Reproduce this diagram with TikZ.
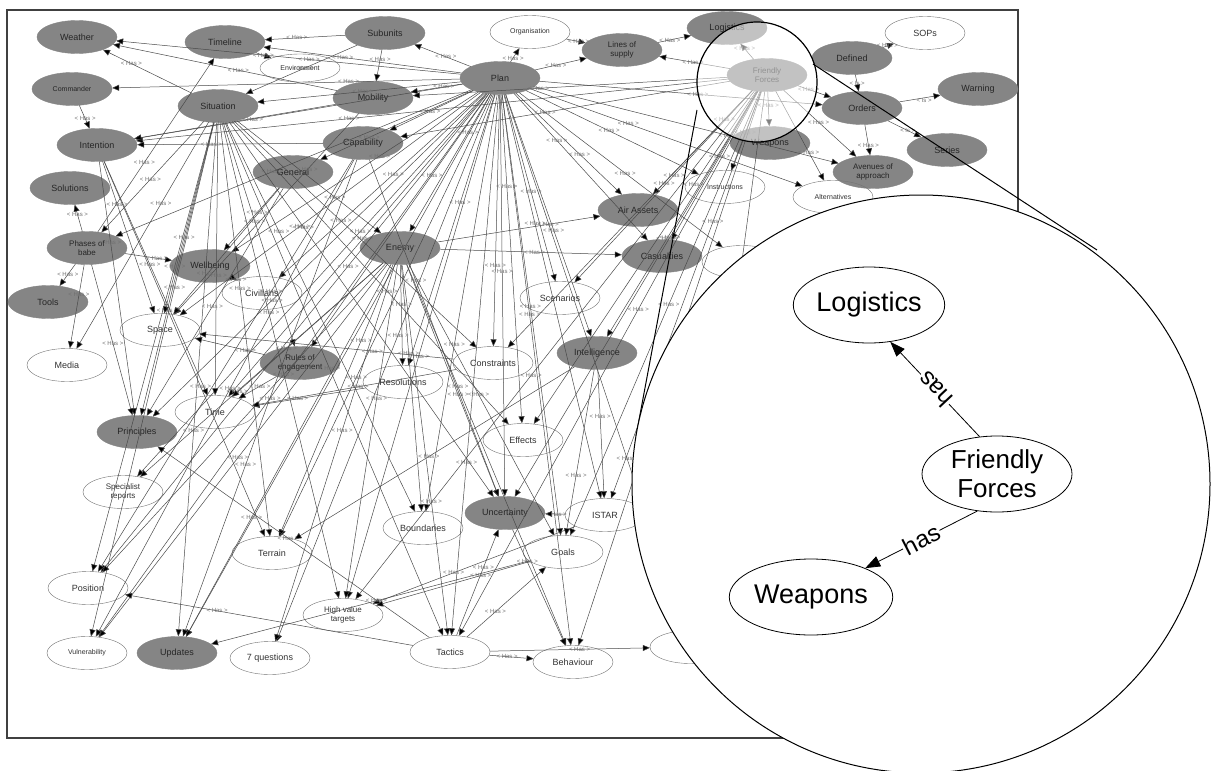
\documentclass[tikz,border=0pt]{standalone}
\usepackage{fontspec}
\setmainfont{Liberation Sans}
\usetikzlibrary{shapes.geometric,arrows.meta}
\definecolor{nodegray}{HTML}{858585}
\definecolor{edgegray}{HTML}{4A4A4A}
\definecolor{labgray}{HTML}{707070}
\begin{document}
\begin{tikzpicture}[x=1pt,y=-1pt,
  dk/.style={ellipse,fill=nodegray,draw=nodegray,text=black!85,
    minimum width=80pt,minimum height=33pt,inner sep=1pt,align=center,
    font=\fontsize{9}{9}\selectfont},
  wt/.style={ellipse,draw=black!55,text=black!80,
    minimum width=80pt,minimum height=33pt,inner sep=1pt,align=center,
    font=\fontsize{9}{9}\selectfont},
  two/.style={font=\fontsize{8}{8.5}\selectfont},
  sm/.style={font=\fontsize{7}{7}\selectfont},
  edge/.style={draw=edgegray,line width=0.5pt,
    -{Triangle[length=7pt,width=6pt,fill=black]}},
  lab/.style={font=\fontsize{6}{6}\selectfont,text=labgray,inner sep=0.5pt},
  big/.style={ellipse,draw=black,line width=0.8pt,fill=white,
    minimum width=150pt,minimum height=76pt,inner sep=1pt,align=center,
    font=\fontsize{27}{29}\selectfont},
  bigedge/.style={draw=black,line width=0.8pt,
    -{Triangle[length=15pt,width=11pt]}},
  haslab/.style={font=\fontsize{24}{24}\selectfont,fill=white,inner sep=1pt}]
\useasboundingbox (0,0) rectangle (1211,771);
\fill[white] (0,0) rectangle (1211,771);

% frame of the concept map
\draw[black!75,line width=2pt] (7,10) rectangle (1018,738);

% ---- concept nodes ----
\node[dk] (weather) at (77,37) {Weather};
\node[dk] (timeline) at (225,42) {Timeline};
\node[wt,sm,minimum height=28pt] (environment) at (300,68) {Environment};
\node[dk] (subunits) at (385,33) {Subunits};
\node[wt,sm] (organisation) at (530,32) {Organisation};
\node[dk,two] (linesupply) at (622,50) {Lines of\\supply};
\node[dk] (logistics) at (727,28) {Logistics};
\node[dk] (plan) at (500,78) {Plan};
\node[dk,sm] (commander) at (72,89) {Commander};
\node[dk] (situation) at (218,106) {Situation};
\node[dk] (mobility) at (373,98) {Mobility};
\node[dk] (intention) at (97,145) {Intention};
\node[dk] (capability) at (363,143) {Capability};
\node[dk] (general) at (293,172) {General};
\node[dk] (solutions) at (70,188) {Solutions};
\node[dk,two] (phases) at (87,248) {Phases of\\babe};
\node[dk] (wellbeing) at (210,266) {Wellbeing};
\node[dk] (enemy) at (400,248) {Enemy};
\node[dk] (tools) at (48,302) {Tools};
\node[wt] (civilians) at (262,293) {Civilians};
\node[wt] (space) at (160,330) {Space};
\node[wt] (media) at (67,365) {Media};
\node[dk,two] (rules) at (300,363) {Rules of\\engagement};
\node[wt] (time) at (215,412) {Time};
\node[dk] (principles) at (137,432) {Principles};
\node[wt,two] (specialist) at (123,492) {Specialist\\reports};
\node[wt] (scenarios) at (560,298) {Scenarios};
\node[wt] (constraints) at (493,363) {Constraints};
\node[wt] (resolutions) at (403,382) {Resolutions};
\node[dk] (intelligence) at (597,353) {Intelligence};
\node[wt] (effects) at (523,440) {Effects};
\node[dk] (uncertainty) at (505,513) {Uncertainty};
\node[wt] (boundaries) at (423,528) {Boundaries};
\node[wt] (istar) at (605,515) {ISTAR};
\node[wt] (goals) at (563,552) {Goals};
\node[wt] (terrain) at (272,553) {Terrain};
\node[wt] (position) at (88,588) {Position};
\node[wt,two] (hvt) at (343,615) {High value\\targets};
\node[wt] (tactics) at (450,652) {Tactics};
\node[wt] (behaviour) at (573,662) {Behaviour};
\node[wt,sm] (vulnerability) at (87,653) {Vulnerability};
\node[dk] (updates) at (177,653) {Updates};
\node[wt] (sevenq) at (270,658) {7 questions};
\node[dk] (airassets) at (638,210) {Air Assets};
\node[dk] (casualties) at (662,256) {Casualties};
\node[dk,two] (friendly) at (767,75) {Friendly\\Forces};
\node[dk] (defined) at (852,58) {Defined};
\node[wt] (sops) at (925,33) {SOPs};
\node[dk] (warning) at (978,89) {Warning};
\node[dk] (orders) at (862,108) {Orders};
\node[dk] (series) at (947,150) {Series};
\node[dk] (weapons) at (770,143) {Weapons};
\node[dk,two] (avenues) at (873,172) {Avenues of\\approach};
\node[wt,sm] (instructions) at (725,187) {Instructions};
\node[wt,sm] (alternatives) at (833,197) {Alternatives};
\node[wt] (hidA) at (742,262) {};
\node[wt] (hidB) at (690,647) {};

% ---- "has" relations ----
\foreach \a/\b [count=\i] in {
  plan/weather, plan/timeline, plan/commander, plan/situation, plan/intention,
  plan/mobility, plan/capability, plan/general, plan/wellbeing, plan/phases,
  plan/enemy, plan/civilians, plan/space, plan/rules, plan/time,
  plan/principles, plan/specialist, plan/scenarios, plan/constraints,
  plan/resolutions, plan/intelligence, plan/effects, plan/uncertainty,
  plan/boundaries, plan/istar, plan/goals, plan/terrain, plan/position,
  plan/hvt, plan/tactics, plan/behaviour, plan/vulnerability, plan/updates,
  plan/sevenq, plan/airassets, plan/casualties, plan/instructions,
  plan/avenues, plan/alternatives, plan/hidA, plan/hidB, plan/linesupply,
  plan/orders, plan/organisation, plan/subunits,
  subunits/timeline, subunits/mobility, subunits/situation, organisation/linesupply,
  linesupply/logistics,
  friendly/linesupply, friendly/logistics, friendly/weapons, friendly/capability,
  friendly/airassets, friendly/casualties, friendly/intelligence, friendly/istar,
  friendly/goals, friendly/behaviour, friendly/uncertainty, friendly/instructions,
  friendly/alternatives, friendly/tactics, friendly/hvt, friendly/effects,
  friendly/scenarios, friendly/mobility, friendly/orders, friendly/avenues,
  friendly/intention, friendly/constraints, friendly/hidB,
  situation/enemy, situation/terrain, situation/time, situation/uncertainty,
  situation/rules, situation/updates, situation/vulnerability, situation/tactics,
  situation/principles, situation/media, situation/phases, situation/weather,
  situation/hvt, situation/effects, situation/boundaries, situation/constraints,
  situation/space, situation/position, timeline/environment,
  enemy/tactics, enemy/position, enemy/vulnerability, enemy/updates, enemy/hvt,
  enemy/uncertainty, enemy/terrain, enemy/sevenq, enemy/specialist,
  enemy/behaviour, enemy/goals, enemy/time, enemy/boundaries, enemy/casualties,
  enemy/airassets, enemy/resolutions,
  commander/intention, intention/space, intention/time, intention/terrain,
  intention/principles,
  phases/tools, phases/solutions, phases/media, phases/principles,
  phases/wellbeing, phases/timeline,
  mobility/intention, mobility/space, mobility/weather,
  capability/intention, capability/position, capability/vulnerability,
  capability/updates, capability/uncertainty,
  general/principles, general/space, general/wellbeing, wellbeing/civilians,
  rules/space, rules/time, resolutions/time, constraints/space, constraints/time,
  tactics/uncertainty, tactics/goals, tactics/principles, tactics/position,
  tactics/behaviour, tactics/hidB, uncertainty/behaviour,
  istar/uncertainty, istar/hvt, goals/hvt, goals/updates,
  intelligence/goals, intelligence/istar, intelligence/terrain,
  orders/avenues, defined/sops}
{
  \pgfmathsetmacro\p{0.28+0.44*mod(\i*37,11)/11}
  \draw[edge] (\a) -- node[lab,pos=\p]{< Has >} (\b);
}

% ---- "is" relations ----
\draw[edge] (defined) -- node[lab,pos=0.55]{< Is >} (orders);
\draw[edge] (orders) -- node[lab,pos=0.6,below]{< Is >} (warning);
\draw[edge] (orders) -- node[lab,pos=0.6]{< Is >} (series);

% ---- magnified spot ----
\fill[white,opacity=0.5] (757,82) circle (60);
\draw[black,line width=1.2pt] (757,82) circle (60);

% ---- callout lines ----
\coordinate (tA) at (813,64);
\coordinate (tB) at (1097,250);
\coordinate (tC) at (697,110);
\coordinate (tD) at (636,436);
\draw[black,line width=1pt] (tA) -- (tB);
\draw[black,line width=1pt] (tC) -- (tD);

% ---- magnifier ----
\draw[black,line width=1pt,fill=white] (921,484) circle (289);

\node[big] (bigL) at (869,305) {Logistics};
\node[big,font=\fontsize{26}{29}\selectfont] (bigF) at (997,474) {Friendly\\Forces};
\node[big] (bigW) at (811,597) {Weapons};

\draw[bigedge] (bigF.115) -- node[haslab,sloped,allow upside down,midway]{has} (bigL.-60);
\draw[bigedge] (bigF.242) -- node[haslab,sloped,midway]{has} (bigW.28);
\end{tikzpicture}
\end{document}
